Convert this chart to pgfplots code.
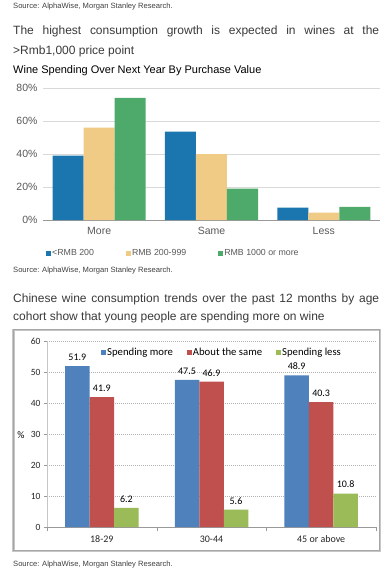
\documentclass[border=0pt]{standalone}
\usepackage{pgfplots}
\pgfplotsset{compat=1.18}
\usepackage{fontspec}
\setmainfont{Liberation Sans}
\newfontfamily\cali{Carlito}
\definecolor{bA}{HTML}{1B75AE}
\definecolor{yA}{HTML}{EFCB85}
\definecolor{gA}{HTML}{4DAA6B}
\definecolor{bB}{HTML}{4F81BD}
\definecolor{rB}{HTML}{C0504D}
\definecolor{gB}{HTML}{9BBB59}
\definecolor{txt}{HTML}{3A3A3A}
\definecolor{src}{HTML}{404040}
\definecolor{tk}{HTML}{595959}
\begin{document}
\begin{tikzpicture}[x=1pt,y=1pt]
\path[fill=white] (0,0) rectangle (390,-571);
% texts
\node[anchor=base west,inner sep=0,text=src,font=\fontsize{7.6}{8}\selectfont] at (13,-8.5) {Source: AlphaWise, Morgan Stanley Research.};
\node[anchor=base west,inner sep=0,text=txt,font=\fontsize{12}{14}\selectfont] at (13,-34) {\makebox[366pt][s]{The highest consumption growth is expected in wines at the}};
\node[anchor=base west,inner sep=0,text=txt,font=\fontsize{12}{14}\selectfont] at (13,-54.5) {>Rmb1,000 price point};
\node[anchor=base west,inner sep=0,text=black,font=\fontsize{11}{13}\selectfont] at (13,-73) {Wine Spending Over Next Year By Purchase Value};
\node[anchor=base west,inner sep=0,text=src,font=\fontsize{7.6}{8}\selectfont] at (13,-272) {Source: AlphaWise, Morgan Stanley Research.};
\node[anchor=base west,inner sep=0,text=txt,font=\fontsize{12}{14}\selectfont] at (13,-302) {\makebox[366pt][s]{Chinese wine consumption trends over the past 12 months by age}};
\node[anchor=base west,inner sep=0,text=txt,font=\fontsize{12}{14}\selectfont] at (13,-320) {cohort show that young people are spending more on wine};
\node[anchor=base west,inner sep=0,text=src,font=\fontsize{7.6}{8}\selectfont] at (13,-566) {Source: AlphaWise, Morgan Stanley Research.};
% chart 1
\begin{axis}[
  at={(43pt,-220pt)}, anchor=south west, scale only axis,
  width=337pt, height=132pt,
  ybar=0pt, bar width=31pt,
  xmin=-0.5, xmax=2.5, ymin=0, ymax=80,
  ytick={0,20,40,60,80},
  yticklabel={\pgfmathprintnumber{\tick}\%},
  xtick={0,1,2}, xticklabels={More,Same,Less},
  major tick length=0pt,
  axis x line*=bottom, axis y line*=left,
  y axis line style={draw=none},
  x axis line style={draw=gray!80, line width=0.8pt},
  ymajorgrids, major grid style={gray!30, line width=0.6pt},
  ticklabel style={text=tk, font=\fontsize{10.5}{12}\selectfont},
  yticklabel style={xshift=-2pt},
  xticklabel style={yshift=-4pt},
  legend columns=3,
  legend style={draw=none, fill=none, at={(0.0,-0.25)}, anchor=west,
    font=\fontsize{8.8}{10}\selectfont, text=tk,
    nodes={inner sep=1pt},
    /tikz/every even column/.append style={column sep=31pt}},
  legend image code/.code={\fill[#1] (0pt,-2.5pt) rectangle (5pt,2.5pt);},
  /pgf/number format/assume math mode=true,
]
\addplot[fill=bA, draw=none] coordinates {(0,39) (1,53.5) (2,7.5)};
\addplot[fill=yA, draw=none] coordinates {(0,56) (1,40) (2,4.5)};
\addplot[fill=gA, draw=none] coordinates {(0,74) (1,19) (2,8)};
\legend{<RMB 200, RMB 200-999, RMB 1000 or more}
\end{axis}
% chart 2 frame
\draw[gray!45, line width=2.5pt] (13.5,-330) rectangle (380,-551);
\draw[gray!70, line width=0.8pt] (13,-329.5) rectangle (379,-550);
\node[font=\cali\fontsize{10}{12}\selectfont] at (21,-435) {\%};
\begin{axis}[
  at={(47pt,-527pt)}, anchor=south west, scale only axis,
  width=329pt, height=186pt,
  ybar=0pt, bar width=24.5pt,
  xmin=-0.5, xmax=2.5, ymin=0, ymax=60,
  ytick={0,10,...,60},
  xtick={0,1,2}, xticklabels={18-29,30-44,45 or above},
  minor xtick={-0.5,0.5,1.5,2.5},
  major x tick style={draw=none},
  tick align=outside, major tick length=3pt, minor tick length=4pt,
  tick style={gray!80},
  axis x line*=bottom, axis y line*=left,
  y axis line style={draw=gray!45, line width=0.5pt},
  x axis line style={draw=gray!80, line width=0.6pt},
  ymajorgrids, major grid style={gray!60, dash pattern=on 1pt off 1pt, line width=0.5pt},
  ticklabel style={text=black!85, font=\cali\fontsize{9.5}{11}\selectfont},
  xticklabel style={font=\cali\fontsize{10}{12}\selectfont, yshift=-2pt},
  nodes near coords,
  nodes near coords style={font=\cali\fontsize{10}{12}\selectfont, text=black, yshift=2pt},
  point meta=explicit symbolic,
  legend columns=3,
  legend style={draw=none, fill=none, at={(0.155,0.94)}, anchor=west,
    font=\cali\fontsize{10.7}{12}\selectfont,
    nodes={inner sep=1pt},
    /tikz/every even column/.append style={column sep=13pt}},
  legend image code/.code={\fill[#1] (0pt,-2.5pt) rectangle (5pt,2.5pt);},
  /pgf/number format/assume math mode=true,
]
\addplot[fill=bB, draw=none] coordinates {(0,51.9) [51.9] (1,47.5) [47.5] (2,48.9) [48.9]};
\addplot[fill=rB, draw=none] coordinates {(0,41.9) [41.9] (1,46.9) [46.9] (2,40.3) [40.3]};
\addplot[fill=gB, draw=none] coordinates {(0,6.2) [6.2] (1,5.6) [5.6] (2,10.8) [10.8]};
\legend{Spending more, About the same, Spending less}
\end{axis}
\end{tikzpicture}
\end{document}
